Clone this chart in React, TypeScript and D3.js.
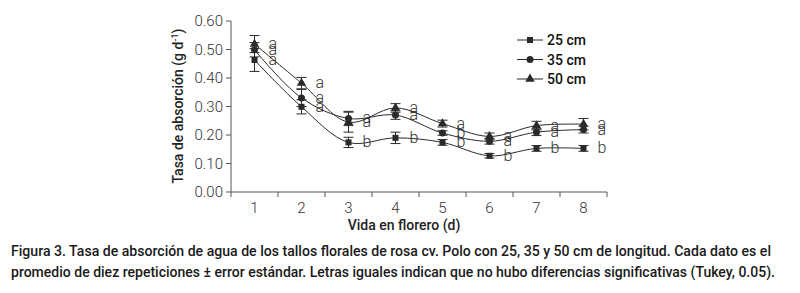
import React from "react";
import * as d3 from "d3";

// dias de vida en florero
const days = [1, 2, 3, 4, 5, 6, 7, 8];
const yTicks = [0, 0.1, 0.2, 0.3, 0.4, 0.5, 0.6];

// tasa de absorcion (g d-1) por longitud de tallo
const v25 = [0.463, 0.299, 0.174, 0.19, 0.174, 0.127, 0.153, 0.153];
const v35 = [0.499, 0.33, 0.258, 0.27, 0.207, 0.178, 0.21, 0.219];
const v50 = [0.519, 0.382, 0.245, 0.295, 0.24, 0.195, 0.233, 0.238];

// error estandar
const e25 = [0.04, 0.025, 0.018, 0.02, 0.01, 0.008, 0.01, 0.01];
const e35 = [0.025, 0.03, 0.025, 0.015, 0.008, 0.01, 0.012, 0.012];
const e50 = [0.03, 0.02, 0.035, 0.015, 0.012, 0.012, 0.015, 0.02];

// letras de Tukey
const l25 = ["a", "a", "b", "b", "b", "b", "b", "b"];
const l35 = ["a", "a", "a", "a", "b", "a", "a", "a"];
const l50 = ["a", "a", "a", "a", "a", "a", "a", "a"];

const seriesNames = ["25 cm", "35 cm", "50 cm"];

const caption1 =
  "Figura 3. Tasa de absorción de agua de los tallos florales de rosa cv. Polo con 25, 35 y 50 cm de longitud. Cada dato es el";
const caption2 =
  "promedio de diez repeticiones ± error estándar. Letras iguales indican que no hubo diferencias significativas (Tukey, 0.05).";

const ink = "#2a2a2a";
const axisCol = "#555";

function Marker({ kind, x, y }: { kind: string; x: number; y: number }) {
  if (kind === "square") return <rect x={x - 3} y={y - 3} width={6} height={6} fill={ink} />;
  if (kind === "circle") return <circle cx={x} cy={y} r={3.5} fill={ink} />;
  const t = d3.symbol().type(d3.symbolTriangle).size(38)();
  return <path d={t || ""} transform={`translate(${x},${y})`} fill={ink} />;
}

export default function App() {
  const x = d3.scaleBand<number>().domain(days).range([231, 607]);
  const y = d3.scaleLinear().domain([0, 0.6]).range([192, 21]);
  const cx = (d: number) => (x(d) || 0) + x.bandwidth() / 2;

  const series = [
    { name: seriesNames[0], vals: v25, errs: e25, letters: l25, kind: "square" },
    { name: seriesNames[1], vals: v35, errs: e35, letters: l35, kind: "circle" },
    { name: seriesNames[2], vals: v50, errs: e50, letters: l50, kind: "triangle" },
  ];

  const line = d3
    .line<number>()
    .x((_, i) => cx(days[i]))
    .y((v) => y(v))
    .curve(d3.curveCatmullRom.alpha(0.5));

  const tickFont = { fontFamily: "Roboto, sans-serif", fontWeight: 300, fontSize: 15, fill: "#333" };

  return (
    <svg width={800} height={293} style={{ position: "absolute", left: 0, top: 0, background: "#fff" }}>
      {/* eje y */}
      <line x1={231} x2={231} y1={y(0.6)} y2={y(0)} stroke={axisCol} />
      {yTicks.map((t) => (
        <g key={t}>
          <line x1={226} x2={231} y1={y(t)} y2={y(t)} stroke={axisCol} />
          <text x={223} y={y(t) + 5} textAnchor="end" style={tickFont}>
            {t.toFixed(2)}
          </text>
        </g>
      ))}
      {/* eje x */}
      <line x1={231} x2={607} y1={y(0)} y2={y(0)} stroke={axisCol} />
      {[...days.map((d) => x(d) || 0), 607].map((px, i) => (
        <line key={i} x1={px} x2={px} y1={y(0)} y2={y(0) + 5} stroke={axisCol} />
      ))}
      {days.map((d) => (
        <text key={d} x={cx(d)} y={213} textAnchor="middle" style={tickFont}>
          {d}
        </text>
      ))}
      <text
        x={404}
        y={230}
        textAnchor="middle"
        style={{ fontFamily: "Roboto, sans-serif", fontWeight: 500, fontSize: 14, fill: "#222" }}
      >
        Vida en florero (d)
      </text>
      <text
        transform="translate(183,106) rotate(-90)"
        textAnchor="middle"
        style={{ fontFamily: "Roboto, sans-serif", fontWeight: 500, fontSize: 14, fill: "#222" }}
      >
        Tasa de absorción (g d<tspan dy={-5} fontSize={9}>-1</tspan>
        <tspan dy={5}>)</tspan>
      </text>

      {/* series */}
      {series.map((s) => (
        <g key={s.name}>
          <path d={line(s.vals) || ""} fill="none" stroke={ink} strokeWidth={1} />
          {s.vals.map((v, i) => {
            const px = cx(days[i]);
            return (
              <g key={i}>
                <line x1={px} x2={px} y1={y(v + s.errs[i])} y2={y(v - s.errs[i])} stroke={ink} />
                <line x1={px - 5} x2={px + 5} y1={y(v + s.errs[i])} y2={y(v + s.errs[i])} stroke={ink} />
                <line x1={px - 5} x2={px + 5} y1={y(v - s.errs[i])} y2={y(v - s.errs[i])} stroke={ink} />
                <Marker kind={s.kind} x={px} y={y(v)} />
                <text
                  x={px + 14}
                  y={y(v) + 5}
                  style={{ fontFamily: "Roboto, sans-serif", fontWeight: 300, fontSize: 16, fill: "#333" }}
                >
                  {s.letters[i]}
                </text>
              </g>
            );
          })}
        </g>
      ))}

      {/* leyenda */}
      {series.map((s, i) => (
        <g key={s.name} transform={`translate(0,${40 + i * 19.5})`}>
          <line x1={517} x2={543} y1={0} y2={0} stroke={ink} />
          <Marker kind={s.kind} x={530} y={0} />
          <text
            x={547}
            y={5}
            style={{ fontFamily: "Roboto, sans-serif", fontWeight: 500, fontSize: 14, fill: "#111" }}
          >
            {s.name}
          </text>
        </g>
      ))}

      {/* pie de figura */}
      <text
        x={11}
        y={256}
        textLength={760}
        lengthAdjust="spacingAndGlyphs"
        style={{ fontFamily: "Roboto, sans-serif", fontWeight: 500, fontSize: 14, fill: "#1a1a1a" }}
      >
        {caption1}
      </text>
      <text
        x={11}
        y={277}
        textLength={764}
        lengthAdjust="spacingAndGlyphs"
        style={{ fontFamily: "Roboto, sans-serif", fontWeight: 500, fontSize: 14, fill: "#1a1a1a" }}
      >
        {caption2}
      </text>
    </svg>
  );
}
